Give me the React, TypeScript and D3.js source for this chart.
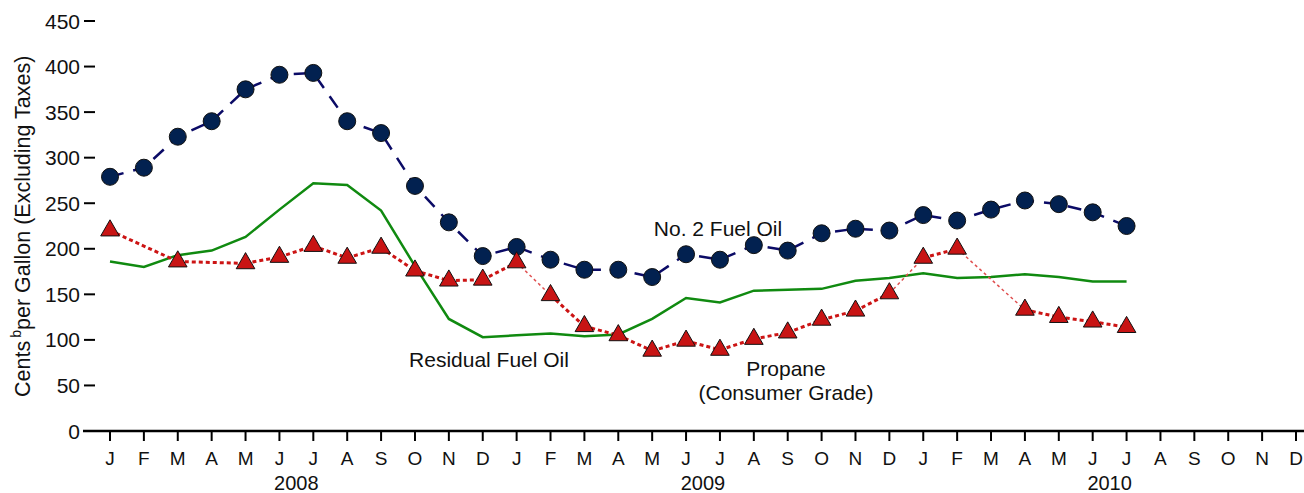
import React from "react";
import * as d3 from "d3";

const MONTH_LETTERS = ["J", "F", "M", "A", "M", "J", "J", "A", "S", "O", "N", "D"];
const YEARS = ["2008", "2009", "2010"];
const Y_TICKS = [0, 50, 100, 150, 200, 250, 300, 350, 400, 450];

// Jan 2008 .. Jul 2010 (31 months)
const fuelOil2 = [279, 289, 323, 340, 375, 391, 393, 340, 327, 269, 229, 192,
  202, 188, 177, 177, 169, 194, 188, 204, 198, 217, 222, 220,
  237, 231, 243, 253, 249, 240, 225];
const residual = [186, 180, 193, 198, 213, 243, 272, 270, 242, 181, 123, 103,
  105, 107, 104, 106, 123, 146, 141, 154, 155, 156, 165, 168,
  173, 168, 169, 172, 169, 164, 164];
const propane: (number | null)[] = [220, null, 186, null, 184, 191, 203, 190, 201, 176, 165, 166,
  185, 149, 115, 105, 88, 99, 89, 101, 108, 122, 132, 151,
  190, 200, null, 133, 125, 120, 114];
// propane segments drawn as thin connector (segment start month index)
const PROPANE_THIN_FROM = [12, 23, 25];

const W = 1304, H = 493;

export default function App() {
  const x = d3.scaleLinear().domain([0, 35]).range([110, 1296]);
  const y = d3.scaleLinear().domain([0, 450]).range([431, 21]);
  const font = "Liberation Sans, Arial, sans-serif";

  const lineGen = d3.line<[number, number]>().x(d => x(d[0])).y(d => y(d[1]));
  const fuelPts: [number, number][] = fuelOil2.map((v, i) => [i, v]);
  const resPts: [number, number][] = residual.map((v, i) => [i, v]);
  const propPts: [number, number][] = propane
    .map((v, i) => [i, v] as [number, number | null])
    .filter(d => d[1] !== null) as [number, number][];

  const propSegs = propPts.slice(0, -1).map((p, k) => ({
    a: p, b: propPts[k + 1], thin: PROPANE_THIN_FROM.includes(p[0]),
  }));

  const months = d3.range(36).map(i => MONTH_LETTERS[i % 12]);
  const tri = d3.symbol().type(d3.symbolTriangle).size(150)();

  return (
    <svg width={W} height={H} style={{ position: "absolute", left: 0, top: 0, background: "#fff" }}
      fontFamily={font}>
      {/* y ticks */}
      {Y_TICKS.map(t => (
        <g key={t}>
          <line x1={84} x2={95} y1={y(t)} y2={y(t)} stroke="#000" strokeWidth={2} />
          <text x={80} y={y(t)} dy="0.36em" textAnchor="end" fontSize={21} fill="#111">{t}</text>
        </g>
      ))}
      {/* x axis */}
      <line x1={83} x2={1304} y1={y(0)} y2={y(0)} stroke="#000" strokeWidth={2.5} />
      {months.map((m, i) => (
        <g key={i}>
          <line x1={x(i)} x2={x(i)} y1={y(0)} y2={y(0) + 10} stroke="#000" strokeWidth={2} />
          <text x={x(i)} y={465} textAnchor="middle" fontSize={19} fill="#111">{m}</text>
        </g>
      ))}
      {YEARS.map((yr, k) => (
        <text key={yr} x={(x(k * 12) + x(k * 12 + 11)) / 2} y={490} textAnchor="middle" fontSize={20} fill="#111">{yr}</text>
      ))}
      {/* y title */}
      <text transform={`translate(30,397) rotate(-90)`} textAnchor="start" fontSize={21.5} fill="#111">
        Cents<tspan fontSize={14} dx={3} dy={-9}>b</tspan><tspan dy={9}>per Gallon (Excluding Taxes)</tspan>
      </text>

      {/* residual */}
      <path d={lineGen(resPts) || ""} fill="none" stroke="#108a10" strokeWidth={2.5} />
      {/* fuel oil dashed */}
      <path d={lineGen(fuelPts) || ""} fill="none" stroke="#0b0b66" strokeWidth={2.5} strokeDasharray="14,10" />
      {/* propane */}
      {propSegs.map((s, k) => (
        <path key={k} d={lineGen([s.a, s.b]) || ""} fill="none"
          stroke={s.thin ? "#e05050" : "#cc1414"}
          strokeWidth={s.thin ? 1.5 : 3}
          strokeDasharray={s.thin ? "3,3" : "4,3"} />
      ))}
      {fuelPts.map(([i, v]) => (
        <circle key={i} cx={x(i)} cy={y(v)} r={8.5} fill="#022150" stroke="#111" strokeWidth={1} />
      ))}
      {propPts.map(([i, v]) => (
        <path key={i} d={tri || ""} transform={`translate(${x(i)},${y(v)})`} fill="#c81414" stroke="#111" strokeWidth={1} />
      ))}

      {/* labels */}
      <text x={718} y={236} textAnchor="middle" fontSize={21} fill="#111">No. 2 Fuel Oil</text>
      <text x={489} y={367} textAnchor="middle" fontSize={21} fill="#111">Residual Fuel Oil</text>
      <text x={786} y={376} textAnchor="middle" fontSize={21} fill="#111">Propane</text>
      <text x={786} y={400} textAnchor="middle" fontSize={21} fill="#111">(Consumer Grade)</text>
    </svg>
  );
}
